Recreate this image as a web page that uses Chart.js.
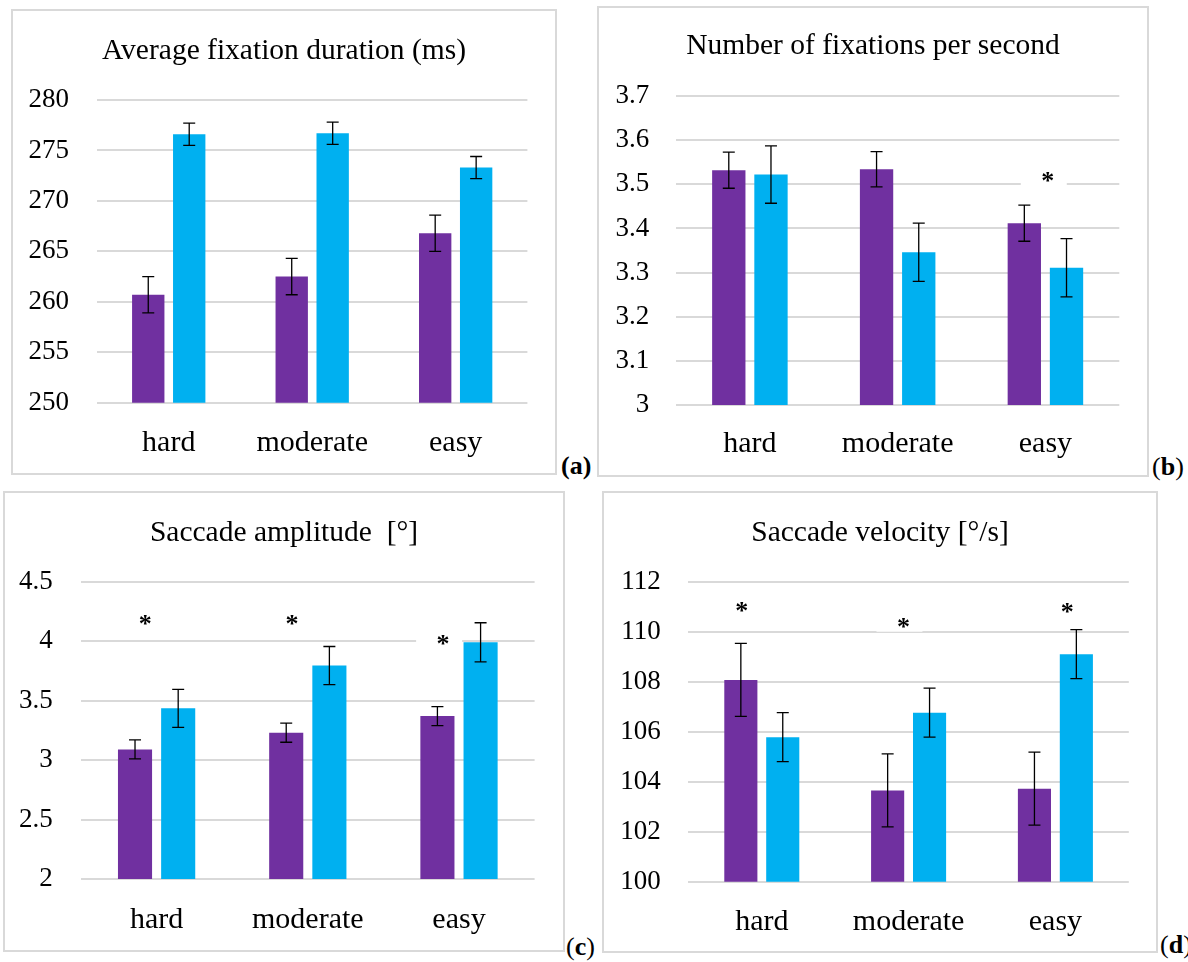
<!DOCTYPE html>
<html>
<head>
<meta charset="utf-8">
<title>Eye-movement measures by task difficulty</title>
<script src="https://cdn.jsdelivr.net/npm/chart.js@4.4.1/dist/chart.umd.min.js"></script>
<style>
  html, body { margin: 0; padding: 0; background: #fff; }
  body { width: 1188px; height: 962px; position: relative; overflow: hidden;
         font-family: "Liberation Serif", "Times New Roman", serif; }
  .panel { position: absolute; box-sizing: border-box; border: 2px solid #d9d9d9; background: #fff; }
  .panel canvas { position: absolute; left: 0; top: 0; }
  .tag { position: absolute; font-size: 26px; line-height: 26px; color: #000; white-space: nowrap; }
</style>
</head>
<body>
<div class="tag" style="left:561px; top:453px;"><b>(a)</b></div>
<div class="tag" style="left:1152px; top:454px;">(<b>b</b>)</div>
<div class="tag" style="left:566px; top:934px;">(<b>c</b>)</div>
<div class="tag" style="left:1160px; top:932px;">(<b>d</b>)</div>

<script>
// ---- data ----
const categories = ['hard', 'moderate', 'easy'];

// (a) Average fixation duration (ms)
const durPurple    = [260.7, 262.5, 266.8];
const durPurpleErr = [1.8, 1.8, 1.8];
const durBlue      = [276.6, 276.7, 273.3];
const durBlueErr   = [1.1, 1.1, 1.1];
const durTicks     = [250, 255, 260, 265, 270, 275, 280];
const durStarCats  = [];
const durStarVals  = [];

// (b) Number of fixations per second
const ratePurple    = [3.532, 3.534, 3.412];
const ratePurpleErr = [0.041, 0.040, 0.041];
const rateBlue      = [3.522, 3.346, 3.311];
const rateBlueErr   = [0.065, 0.066, 0.066];
const rateTicks     = [3, 3.1, 3.2, 3.3, 3.4, 3.5, 3.6, 3.7];
const rateStarCats  = [2.016];
const rateStarVals  = [3.517];

// (c) Saccade amplitude [°]
const ampPurple    = [3.09, 3.23, 3.37];
const ampPurpleErr = [0.08, 0.08, 0.08];
const ampBlue      = [3.435, 3.795, 3.99];
const ampBlueErr   = [0.16, 0.16, 0.165];
const ampTicks     = [2, 2.5, 3, 3.5, 4, 4.5];
const ampStarCats  = [-0.075, 0.895, 1.895];
const ampStarVals  = [4.178, 4.178, 4.016];

// (d) Saccade velocity [°/s]
const velPurple    = [108.07, 103.65, 103.72];
const velPurpleErr = [1.46, 1.46, 1.46];
const velBlue      = [105.78, 106.76, 109.1];
const velBlueErr   = [0.98, 0.98, 0.98];
const velTicks     = [100, 102, 104, 106, 108, 110, 112];
const velStarCats  = [-0.136, 0.965, 2.08];
const velStarVals  = [111.0, 110.36, 110.96];

// ---- styling ----
const PURPLE = '#7030A0';
const BLUE = '#00B0F0';
const FONT = '"Liberation Serif", "Times New Roman", serif';
const TITLE_SIZE = 29.5;
const CAT_SIZE = 30;
const TICK_SIZE = 27;

// page-space frame of each panel: box [l, t, r, b], plot grid [l, t, r, b]
const panels = [
  { title: 'Average fixation duration (ms)', box: [11, 9, 557, 475], grid: [97, 100, 527.4, 402.7],
    tickRight: 69, titleMid: 51.3, catMid: 435,
    a: durPurple, aErr: durPurpleErr, b: durBlue, bErr: durBlueErr, ticks: durTicks,
    starCats: durStarCats, starVals: durStarVals },
  { title: 'Number of fixations per second', box: [597, 6, 1149, 477], grid: [676, 96, 1119.3, 405],
    tickRight: 649.3, titleMid: 46.4, catMid: 436.5,
    a: ratePurple, aErr: ratePurpleErr, b: rateBlue, bErr: rateBlueErr, ticks: rateTicks,
    starCats: rateStarCats, starVals: rateStarVals },
  { title: 'Saccade amplitude  [°]', box: [3, 491, 565, 952], grid: [81, 581.7, 534.6, 879],
    tickRight: 52.8, titleMid: 533, catMid: 912,
    a: ampPurple, aErr: ampPurpleErr, b: ampBlue, bErr: ampBlueErr, ticks: ampTicks,
    starCats: ampStarCats, starVals: ampStarVals },
  { title: 'Saccade velocity [°/s]', box: [602, 491, 1158, 953], grid: [688.4, 581.7, 1128.8, 881.7],
    tickRight: 660.8, titleMid: 533.5, catMid: 914,
    a: velPurple, aErr: velPurpleErr, b: velBlue, bErr: velBlueErr, ticks: velTicks,
    starCats: velStarCats, starVals: velStarVals }
];

// whiskers with caps at mean ± error
const errorBars = {
  id: 'errorBars',
  afterDatasetsDraw(chart) {
    const ctx = chart.ctx;
    const ys = chart.scales.y;
    ctx.save();
    ctx.strokeStyle = '#000';
    ctx.lineWidth = 1.3;
    chart.data.datasets.forEach((ds, i) => {
      chart.getDatasetMeta(i).data.forEach((bar, j) => {
        const v = ds.data[j], e = ds.errors[j];
        const yTop = ys.getPixelForValue(v + e);
        const yBot = ys.getPixelForValue(v - e);
        const x = bar.x;
        ctx.beginPath();
        ctx.moveTo(x, yTop); ctx.lineTo(x, yBot);
        ctx.moveTo(x - 6, yTop); ctx.lineTo(x + 6, yTop);
        ctx.moveTo(x - 6, yBot); ctx.lineTo(x + 6, yBot);
        ctx.stroke();
      });
    });
    ctx.restore();
  }
};

// significance asterisks on small white text boxes
function makeStars(cats, vals) {
  return {
    id: 'stars',
    afterDatasetsDraw(chart) {
      const ctx = chart.ctx;
      const xs = chart.scales.x, ys = chart.scales.y;
      ctx.save();
      cats.forEach((c, k) => {
        const px = xs.getPixelForValue(c);
        const py = ys.getPixelForValue(vals[k]);
        ctx.fillStyle = '#fff';
        ctx.fillRect(px - 27, py - 9, 46, 18);
        ctx.fillStyle = '#000';
        ctx.font = 'bold 26px ' + FONT;
        ctx.textAlign = 'center';
        ctx.textBaseline = 'alphabetic';
        ctx.fillText('*', px, py + 12.5);
      });
      ctx.restore();
    }
  };
}

// chart title centred on the whole panel
function makeTitle(text, midY) {
  return {
    id: 'panelTitle',
    afterDraw(chart) {
      const ctx = chart.ctx;
      ctx.save();
      ctx.fillStyle = '#000';
      ctx.font = TITLE_SIZE + 'px ' + FONT;
      ctx.textAlign = 'center';
      ctx.textBaseline = 'middle';
      ctx.fillText(text, chart.width / 2, midY);
      ctx.restore();
    }
  };
}

function makePanel(p) {
  const W = p.box[2] - p.box[0], H = p.box[3] - p.box[1];
  const div = document.createElement('div');
  div.className = 'panel';
  Object.assign(div.style, { left: p.box[0] + 'px', top: p.box[1] + 'px', width: W + 'px', height: H + 'px' });
  const cw = W - 4, ch = H - 4, ox = p.box[0] + 2, oy = p.box[1] + 2;
  const canvas = document.createElement('canvas');
  canvas.width = cw; canvas.height = ch;
  canvas.style.width = cw + 'px'; canvas.style.height = ch + 'px';
  div.appendChild(canvas);
  document.body.appendChild(div);

  const left = p.grid[0] - ox, right = p.grid[2] - ox, top = p.grid[1] - oy, bottom = p.grid[3] - oy;
  const catLH = CAT_SIZE * 1.2;

  new Chart(canvas, {
    type: 'bar',
    data: {
      labels: categories,
      datasets: [
        { label: 'Series 1', data: p.a, errors: p.aErr, backgroundColor: PURPLE,
          categoryPercentage: 0.571, barPercentage: 0.79 },
        { label: 'Series 2', data: p.b, errors: p.bErr, backgroundColor: BLUE,
          categoryPercentage: 0.571, barPercentage: 0.79 }
      ]
    },
    options: {
      responsive: false,
      animation: false,
      devicePixelRatio: 1,
      layout: { padding: { left: 0, right: cw - right, top: top, bottom: 0 } },
      plugins: {
        legend: { display: false },
        tooltip: { enabled: false },
        title: { display: false }
      },
      scales: {
        x: {
          grid: { display: false },
          border: { display: false },
          ticks: { color: '#000', font: { family: FONT, size: CAT_SIZE, lineHeight: 1.2 },
                   padding: (p.catMid - oy) - bottom - catLH / 2, maxRotation: 0, autoSkip: false },
          afterFit: s => { s.height = ch - bottom; }
        },
        y: {
          min: p.ticks[0], max: p.ticks[p.ticks.length - 1],
          grid: { color: '#d9d9d9', lineWidth: 2, drawTicks: false },
          border: { display: false },
          ticks: { color: '#000', font: { family: FONT, size: TICK_SIZE },
                   padding: left - (p.tickRight - ox), callback: v => String(v) },
          afterBuildTicks: s => { s.ticks = p.ticks.map(v => ({ value: v })); },
          afterFit: s => { s.width = left; }
        }
      }
    },
    plugins: [errorBars, makeStars(p.starCats, p.starVals), makeTitle(p.title, p.titleMid - oy)]
  });
}

panels.forEach(makePanel);
</script>
</body>
</html>
